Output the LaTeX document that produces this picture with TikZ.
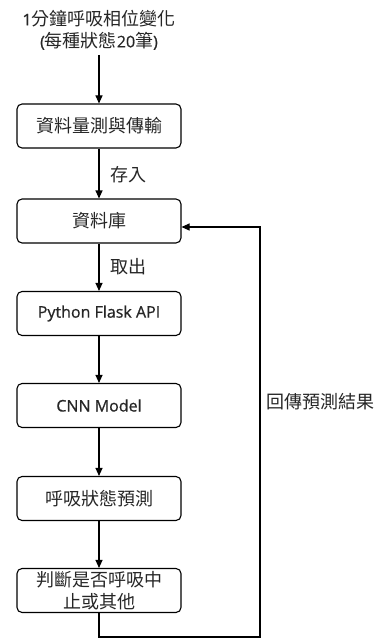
\documentclass[tikz,border=0pt]{standalone}
\usepackage{fontspec}
\setmainfont{Open Sans}[FakeBold=0.7]
\newfontfamily\cjk{Noto Sans CJK TC}
\usetikzlibrary{arrows.meta,calc}
\tikzset{
  box/.style={draw=black, line width=1.1pt, rounded corners=5pt, minimum width=164pt, minimum height=44pt, inner sep=0pt, align=center, text=black!85, font=\fontsize{16}{22}\selectfont},
  conn/.style={draw=black, line width=1.1pt, -{Triangle[length=8pt,width=7pt]}},
  lbl/.style={text=black!85, font=\fontsize{16}{22}\selectfont, inner sep=0pt, align=center}
}
\newcommand{\cj}[1]{{\cjk\fontsize{18}{22}\selectfont #1}}
\begin{document}
\begin{tikzpicture}[x=1pt,y=-1pt]
\useasboundingbox (0,0) rectangle (379,639);
\node[lbl] (top) at (99,30) {1\cj{分鐘呼吸相位變化}\\(\cj{每種狀態}20\cj{筆})};
\coordinate (tops) at (99,55);
\node[box] (b1) at (99,126) {\cj{資料量測與傳輸}};
\node[box] (b2) at (99,221) {\cj{資料庫}};
\node[box] (b3) at (99,313.5) {Python Flask API};
\node[box] (b4) at (99,405.5) {CNN Model};
\node[box] (b5) at (99,498.5) {\cj{呼吸狀態預測}};
\node[box] (b6) at (99,590.5) {\cj{判斷是否呼吸中}\\\cj{止或其他}};
\node[lbl, anchor=west] (l1) at (110,175) {\cj{存入}};
\node[lbl, anchor=west] (l2) at (110,267) {\cj{取出}};
\node[lbl, anchor=west] (l3) at (266,402) {\cj{回傳預測結果}};
\coordinate (c1) at (260,637);
\coordinate (c2) at (260,227);
\draw[conn] (tops) -- (b1.north);
\draw[conn] (b1) -- (b2);
\draw[conn] (b2) -- (b3);
\draw[conn] (b3) -- (b4);
\draw[conn] (b4) -- (b5);
\draw[conn] (b5) -- (b6);
\draw[conn] (b6.south) |- (c1) -- (c2) -- (c2 -| b2.east);
\end{tikzpicture}
\end{document}
